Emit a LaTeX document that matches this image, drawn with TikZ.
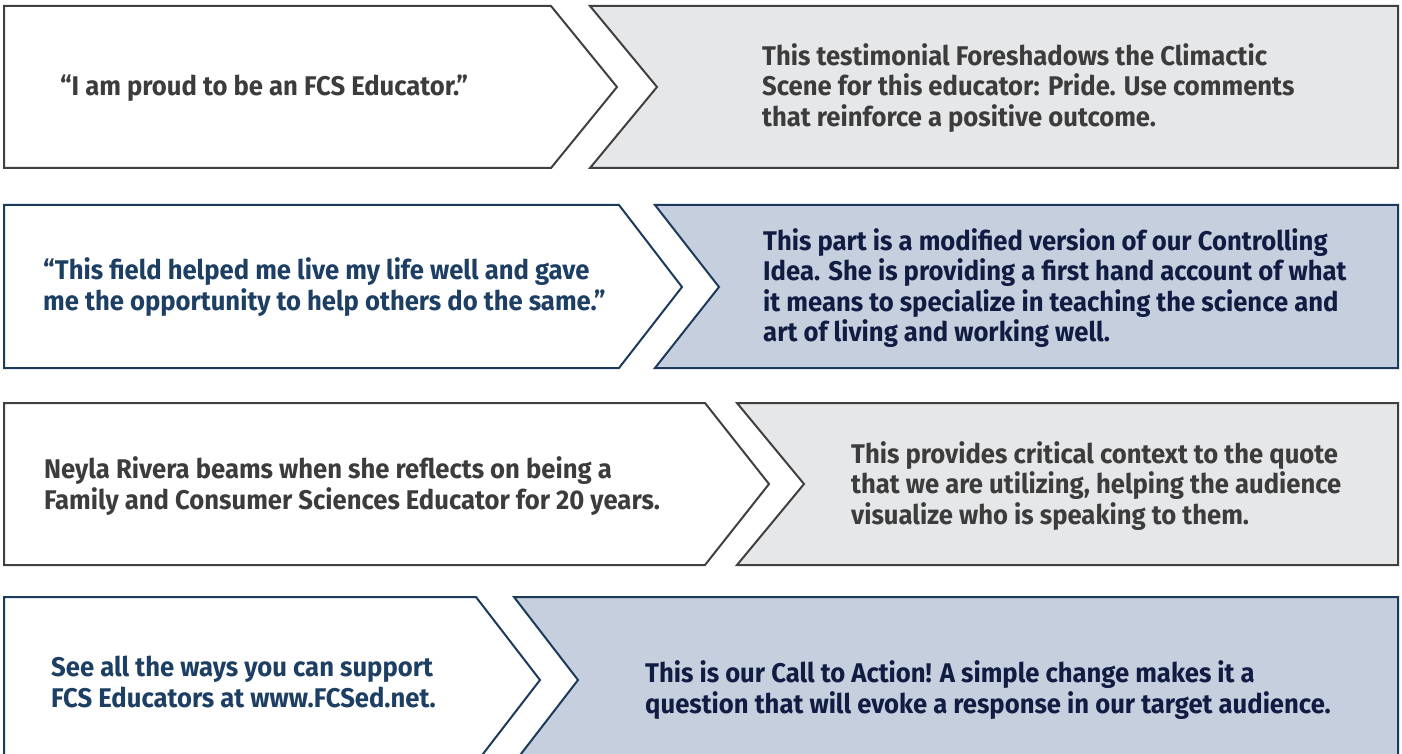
\documentclass[tikz,border=0pt]{standalone}
\usepackage{fontspec}
\setmainfont{Fira Sans}[FakeStretch=0.95]
\definecolor{gline}{HTML}{404040}
\definecolor{gfill}{HTML}{E6E7E9}
\definecolor{gtext}{HTML}{3C3C3C}
\definecolor{bline}{HTML}{1B3A5C}
\definecolor{bfill}{HTML}{C6CFDD}
\definecolor{btextl}{HTML}{1D3F63}
\definecolor{btextr}{HTML}{101C42}
\tikzset{
  grayshape/.style={draw=gline, line width=2pt, line join=miter},
  blueshape/.style={draw=bline, line width=2pt, line join=miter},
  txt/.style={anchor=west, align=left, inner sep=0pt, font=\fontsize{27}{30.5}\selectfont\bfseries},
}
\begin{document}
\begin{tikzpicture}[x=1pt,y=-1pt]
\useasboundingbox (0,0) rectangle (1402,754);
% row 1
\draw[grayshape, fill=white] (4,6) -- (551,6) -- (617,87) -- (551,168) -- (4,168) -- cycle;
\draw[grayshape, fill=gfill] (590,6) -- (1398,6) -- (1398,168) -- (590,168) -- (657,87) -- cycle;
\node[txt, text=gtext] (l1) at (60,88) {“I am proud to be an FCS Educator.”};
\node[txt, text=gtext] (r1) at (762,88) {This testimonial Foreshadows the Climactic\\Scene for this educator: Pride. Use comments\\that reinforce a positive outcome.};
% row 2
\draw[blueshape, fill=white] (4,205) -- (619,205) -- (682,287) -- (619,368) -- (4,368) -- cycle;
\draw[blueshape, fill=bfill] (655,205) -- (1398,205) -- (1398,368) -- (655,368) -- (719,287) -- cycle;
\node[txt, text=btextl] (l2) at (43,287) {“This field helped me live my life well and gave\\me the opportunity to help others do the same.”};
\node[txt, text=btextr] (r2) at (763,288) {This part is a modified version of our Controlling\\Idea. She is providing a first hand account of what\\it means to specialize in teaching the science and\\art of living and working well.};
% row 3
\draw[grayshape, fill=white] (4,403) -- (705,403) -- (769,484) -- (705,565) -- (4,565) -- cycle;
\draw[grayshape, fill=gfill] (737,403) -- (1398,403) -- (1398,565) -- (737,565) -- (804,484) -- cycle;
\node[txt, text=gtext] (l3) at (44,486) {Neyla Rivera beams when she reflects on being a\\Family and Consumer Sciences Educator for 20 years.};
\node[txt, text=gtext] (r3) at (851,486) {This provides critical context to the quote\\that we are utilizing, helping the audience\\visualize who is speaking to them.};
% row 4
\draw[blueshape, fill=white] (4,597) -- (476,597) -- (540,680) -- (476,763) -- (4,763) -- cycle;
\draw[blueshape, fill=bfill] (514,597) -- (1398,597) -- (1398,763) -- (514,763) -- (578,680) -- cycle;
\node[txt, text=btextl] (l4) at (51,682) {See all the ways you can support\\FCS Educators at www.FCSed.net.};
\node[txt, text=btextr] (r4) at (645,690) {This is our Call to Action! A simple change makes it a\\question that will evoke a response in our target audience.};
\end{tikzpicture}
\end{document}
